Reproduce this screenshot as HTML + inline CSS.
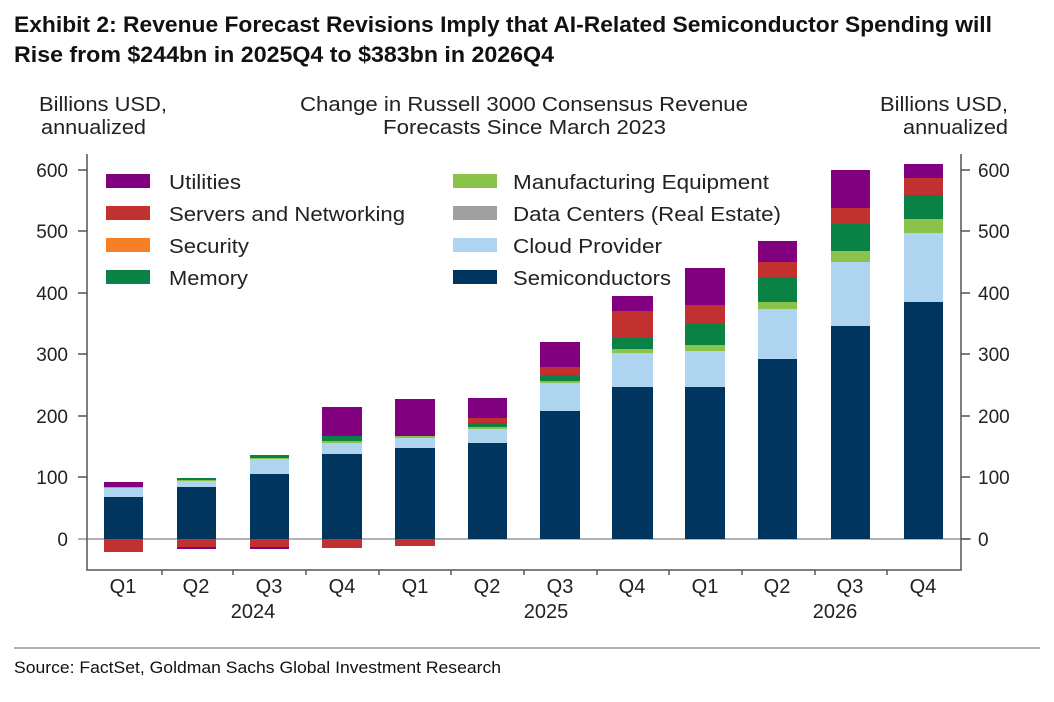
<!DOCTYPE html>
<html><head><meta charset="utf-8"><style>
html,body{margin:0;padding:0;background:#fff;}
svg{display:block;font-family:"Liberation Sans",Arial,sans-serif;}
</style></head><body>
<svg width="1054" height="702" viewBox="0 0 1054 702" xmlns="http://www.w3.org/2000/svg">
<text x="14" y="32" font-size="22" font-weight="bold" fill="#111" textLength="978" lengthAdjust="spacingAndGlyphs">Exhibit 2: Revenue Forecast Revisions Imply that AI-Related Semiconductor Spending will</text>
<text x="14" y="62" font-size="22" font-weight="bold" fill="#111" textLength="540" lengthAdjust="spacingAndGlyphs">Rise from $244bn in 2025Q4 to $383bn in 2026Q4</text>

<g font-size="20" fill="#222">
<text x="39" y="111" textLength="128" lengthAdjust="spacingAndGlyphs">Billions USD,</text>
<text x="41" y="134" textLength="105" lengthAdjust="spacingAndGlyphs">annualized</text>
<text x="880" y="111" textLength="128" lengthAdjust="spacingAndGlyphs">Billions USD,</text>
<text x="903" y="134" textLength="105" lengthAdjust="spacingAndGlyphs">annualized</text>
<text x="300" y="111" textLength="448" lengthAdjust="spacingAndGlyphs">Change in Russell 3000 Consensus Revenue</text>
<text x="383" y="134" textLength="283" lengthAdjust="spacingAndGlyphs">Forecasts Since March 2023</text>
</g>

<line x1="78" y1="539" x2="971" y2="539" stroke="#999" stroke-width="1.5"/>

<g id="bars">
<rect x="104" y="497" width="39" height="42" fill="#003560"/>
<rect x="104" y="488" width="39" height="9" fill="#aed4f0"/>
<rect x="104" y="487" width="39" height="1" fill="#8bc34a"/>
<rect x="104" y="482" width="39" height="5" fill="#800080"/>
<rect x="104" y="539" width="39" height="13" fill="#c0312f"/>
<rect x="177" y="487" width="39" height="52" fill="#003560"/>
<rect x="177" y="481" width="39" height="6" fill="#aed4f0"/>
<rect x="177" y="480" width="39" height="1" fill="#8bc34a"/>
<rect x="177" y="478" width="39" height="2" fill="#0a8245"/>
<rect x="177" y="539" width="39" height="8" fill="#c0312f"/>
<rect x="177" y="547" width="39" height="2" fill="#800080"/>
<rect x="250" y="474" width="39" height="65" fill="#003560"/>
<rect x="250" y="459" width="39" height="15" fill="#aed4f0"/>
<rect x="250" y="458" width="39" height="1" fill="#8bc34a"/>
<rect x="250" y="455" width="39" height="3" fill="#0a8245"/>
<rect x="250" y="539" width="39" height="8" fill="#c0312f"/>
<rect x="250" y="547" width="39" height="2" fill="#800080"/>
<rect x="322" y="454" width="40" height="85" fill="#003560"/>
<rect x="322" y="443" width="40" height="11" fill="#aed4f0"/>
<rect x="322" y="441" width="40" height="2" fill="#8bc34a"/>
<rect x="322" y="436" width="40" height="5" fill="#0a8245"/>
<rect x="322" y="407" width="40" height="29" fill="#800080"/>
<rect x="322" y="539" width="40" height="9" fill="#c0312f"/>
<rect x="395" y="448" width="40" height="91" fill="#003560"/>
<rect x="395" y="438" width="40" height="10" fill="#aed4f0"/>
<rect x="395" y="436" width="40" height="2" fill="#8bc34a"/>
<rect x="395" y="399" width="40" height="37" fill="#800080"/>
<rect x="395" y="539" width="40" height="7" fill="#c0312f"/>
<rect x="468" y="443" width="39" height="96" fill="#003560"/>
<rect x="468" y="429" width="39" height="14" fill="#aed4f0"/>
<rect x="468" y="427" width="39" height="2" fill="#8bc34a"/>
<rect x="468" y="423" width="39" height="4" fill="#0a8245"/>
<rect x="468" y="418" width="39" height="5" fill="#c0312f"/>
<rect x="468" y="398" width="39" height="20" fill="#800080"/>
<rect x="540" y="411" width="40" height="128" fill="#003560"/>
<rect x="540" y="383" width="40" height="28" fill="#aed4f0"/>
<rect x="540" y="381" width="40" height="2" fill="#8bc34a"/>
<rect x="540" y="375" width="40" height="6" fill="#0a8245"/>
<rect x="540" y="367" width="40" height="8" fill="#c0312f"/>
<rect x="540" y="342" width="40" height="25" fill="#800080"/>
<rect x="612" y="387" width="41" height="152" fill="#003560"/>
<rect x="612" y="353" width="41" height="34" fill="#aed4f0"/>
<rect x="612" y="349" width="41" height="4" fill="#8bc34a"/>
<rect x="612" y="338" width="41" height="11" fill="#0a8245"/>
<rect x="612" y="311" width="41" height="27" fill="#c0312f"/>
<rect x="612" y="296" width="41" height="15" fill="#800080"/>
<rect x="685" y="387" width="40" height="152" fill="#003560"/>
<rect x="685" y="351" width="40" height="36" fill="#aed4f0"/>
<rect x="685" y="345" width="40" height="6" fill="#8bc34a"/>
<rect x="685" y="324" width="40" height="21" fill="#0a8245"/>
<rect x="685" y="305" width="40" height="19" fill="#c0312f"/>
<rect x="685" y="268" width="40" height="37" fill="#800080"/>
<rect x="758" y="359" width="39" height="180" fill="#003560"/>
<rect x="758" y="309" width="39" height="50" fill="#aed4f0"/>
<rect x="758" y="302" width="39" height="7" fill="#8bc34a"/>
<rect x="758" y="277" width="39" height="25" fill="#0a8245"/>
<rect x="758" y="262" width="39" height="15" fill="#c0312f"/>
<rect x="758" y="241" width="39" height="21" fill="#800080"/>
<rect x="831" y="326" width="39" height="213" fill="#003560"/>
<rect x="831" y="262" width="39" height="64" fill="#aed4f0"/>
<rect x="831" y="251" width="39" height="11" fill="#8bc34a"/>
<rect x="831" y="224" width="39" height="27" fill="#0a8245"/>
<rect x="831" y="208" width="39" height="16" fill="#c0312f"/>
<rect x="831" y="170" width="39" height="38" fill="#800080"/>
<rect x="904" y="302" width="39" height="237" fill="#003560"/>
<rect x="904" y="233" width="39" height="69" fill="#aed4f0"/>
<rect x="904" y="219" width="39" height="14" fill="#8bc34a"/>
<rect x="904" y="195" width="39" height="24" fill="#0a8245"/>
<rect x="904" y="178" width="39" height="17" fill="#c0312f"/>
<rect x="904" y="164" width="39" height="14" fill="#800080"/>
</g>

<g stroke="#555" stroke-width="1.5" fill="none">
<polyline points="87,154 87,570 961,570 961,154"/>
<line x1="78" y1="170" x2="87" y2="170"/><line x1="78" y1="231" x2="87" y2="231"/>
<line x1="78" y1="293" x2="87" y2="293"/><line x1="78" y1="354" x2="87" y2="354"/>
<line x1="78" y1="416" x2="87" y2="416"/><line x1="78" y1="477" x2="87" y2="477"/>
<line x1="961" y1="170" x2="970" y2="170"/><line x1="961" y1="231" x2="970" y2="231"/>
<line x1="961" y1="293" x2="970" y2="293"/><line x1="961" y1="354" x2="970" y2="354"/>
<line x1="961" y1="416" x2="970" y2="416"/><line x1="961" y1="477" x2="970" y2="477"/>
<line x1="961" y1="539" x2="970" y2="539"/>
<line x1="162" y1="570" x2="162" y2="575"/><line x1="233" y1="570" x2="233" y2="575"/>
<line x1="306" y1="570" x2="306" y2="575"/><line x1="379" y1="570" x2="379" y2="575"/>
<line x1="451" y1="570" x2="451" y2="575"/><line x1="524" y1="570" x2="524" y2="575"/>
<line x1="597" y1="570" x2="597" y2="575"/><line x1="669" y1="570" x2="669" y2="575"/>
<line x1="742" y1="570" x2="742" y2="575"/><line x1="815" y1="570" x2="815" y2="575"/>
<line x1="887" y1="570" x2="887" y2="575"/>
</g>

<g font-size="19" fill="#222">
<g text-anchor="end">
<text x="68" y="177">600</text><text x="68" y="238">500</text><text x="68" y="300">400</text>
<text x="68" y="361">300</text><text x="68" y="423">200</text><text x="68" y="484">100</text><text x="68" y="546">0</text>
</g>
<text x="978" y="177">600</text><text x="978" y="238">500</text><text x="978" y="300">400</text>
<text x="978" y="361">300</text><text x="978" y="423">200</text><text x="978" y="484">100</text><text x="978" y="546">0</text>
<g text-anchor="middle" font-size="20">
<text x="123" y="593">Q1</text><text x="196" y="593">Q2</text><text x="269" y="593">Q3</text><text x="342" y="593">Q4</text>
<text x="415" y="593">Q1</text><text x="487" y="593">Q2</text><text x="560" y="593">Q3</text><text x="632" y="593">Q4</text>
<text x="705" y="593">Q1</text><text x="777" y="593">Q2</text><text x="850" y="593">Q3</text><text x="923" y="593">Q4</text>
<text x="253" y="618">2024</text><text x="546" y="618">2025</text><text x="835" y="618">2026</text>
</g>
</g>

<g>
<rect x="106" y="174" width="44" height="14" fill="#800080"/>
<rect x="106" y="206" width="44" height="14" fill="#c0312f"/>
<rect x="106" y="238" width="44" height="14" fill="#f58025"/>
<rect x="106" y="270" width="44" height="14" fill="#0a8245"/>
<rect x="453" y="174" width="44" height="14" fill="#8bc34a"/>
<rect x="453" y="206" width="44" height="14" fill="#a0a0a0"/>
<rect x="453" y="238" width="44" height="14" fill="#aed4f0"/>
<rect x="453" y="270" width="44" height="14" fill="#003560"/>
</g>
<g font-size="20" fill="#222" lengthAdjust="spacingAndGlyphs">
<text x="169" y="189" textLength="72" lengthAdjust="spacingAndGlyphs">Utilities</text>
<text x="169" y="221" textLength="236" lengthAdjust="spacingAndGlyphs">Servers and Networking</text>
<text x="169" y="253" textLength="80" lengthAdjust="spacingAndGlyphs">Security</text>
<text x="169" y="285" textLength="79" lengthAdjust="spacingAndGlyphs">Memory</text>
<text x="513" y="189" textLength="256" lengthAdjust="spacingAndGlyphs">Manufacturing Equipment</text>
<text x="513" y="221" textLength="268" lengthAdjust="spacingAndGlyphs">Data Centers (Real Estate)</text>
<text x="513" y="253" textLength="149" lengthAdjust="spacingAndGlyphs">Cloud Provider</text>
<text x="513" y="285" textLength="158" lengthAdjust="spacingAndGlyphs">Semiconductors</text>
</g>

<line x1="14" y1="648" x2="1040" y2="648" stroke="#999" stroke-width="1.5"/>
<text x="14" y="673" font-size="17" fill="#111" textLength="487" lengthAdjust="spacingAndGlyphs">Source: FactSet, Goldman Sachs Global Investment Research</text>
</svg>
</body></html>
